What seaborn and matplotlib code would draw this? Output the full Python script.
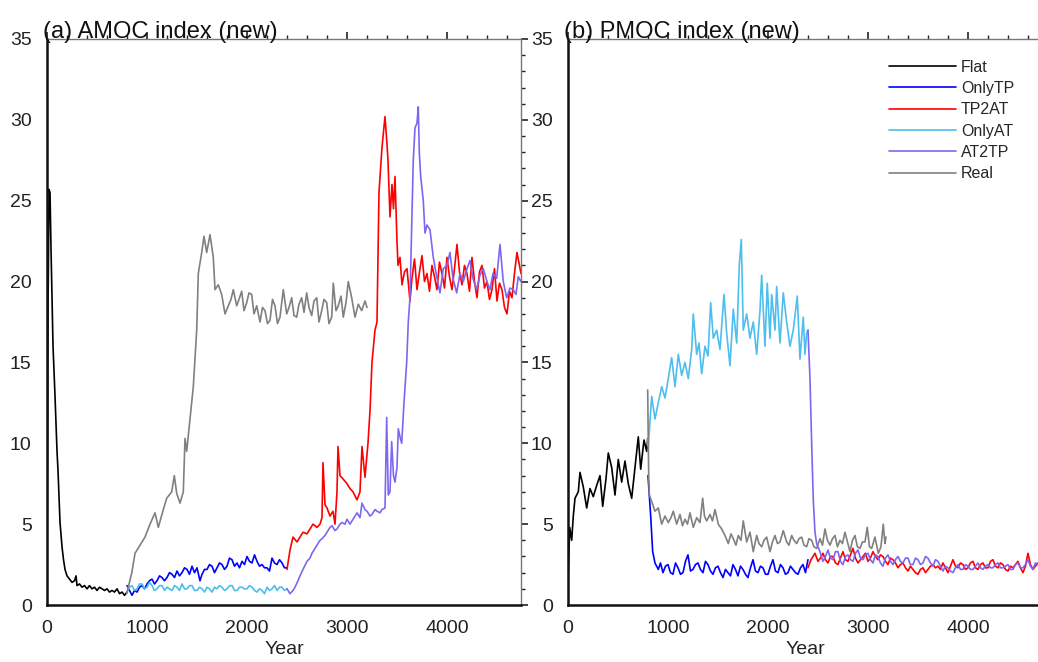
import matplotlib.pyplot as plt
import seaborn as sns
from matplotlib.ticker import MultipleLocator

# ---------------- (a) AMOC data ----------------
amoc_flat_yr = [0, 5, 10, 20, 30, 40, 50, 60, 80, 100, 110, 130, 150, 165, 180, 200, 225, 250, 275, 290,
                300, 325, 350, 375, 400, 425, 450, 475, 500, 525, 550, 575, 600, 625, 650, 675, 700, 725,
                750, 775, 800]
amoc_flat = [2.0, 10, 18, 25.7, 25.5, 22, 19, 16, 12.9, 9.5, 8.3, 5.1, 3.6, 2.8, 2.2, 1.8, 1.6, 1.4, 1.5, 1.8,
             1.2, 1.3, 1.1, 1.2, 1.0, 1.2, 1.0, 1.1, 0.9, 1.1, 1.0, 0.9, 1.0, 0.8, 0.9, 0.8, 1.0, 0.7,
             0.8, 0.6, 0.8]

amoc_onlytp_yr = [800, 825, 850, 875, 900, 925, 950, 975, 1000, 1025, 1050, 1075, 1100, 1125, 1150, 1175,
                  1200, 1225, 1250, 1275, 1300, 1325, 1350, 1375, 1400, 1425, 1450, 1475, 1500, 1530, 1550,
                  1575, 1600, 1625, 1650, 1675, 1700, 1725, 1750, 1775, 1800, 1825, 1850, 1875, 1900, 1925,
                  1950, 1975, 2000, 2025, 2050, 2075, 2100, 2125, 2150, 2175, 2200, 2225, 2250, 2275, 2300,
                  2325, 2350, 2375, 2400]
amoc_onlytp = [1.2, 0.9, 0.6, 0.9, 0.8, 1.1, 1.2, 1.0, 1.3, 1.5, 1.6, 1.3, 1.5, 1.8, 1.7, 1.5, 1.7, 2.0, 1.9,
               1.7, 2.1, 1.8, 2.0, 2.3, 2.2, 1.9, 2.4, 2.0, 2.3, 1.5, 1.9, 2.2, 2.2, 2.5, 2.4, 2.0, 2.3, 2.6,
               2.5, 2.2, 2.4, 2.9, 2.8, 2.4, 2.6, 2.3, 2.7, 2.5, 3.0, 2.7, 2.6, 3.1, 2.7, 2.4, 2.5, 2.3, 2.3,
               2.1, 2.9, 2.6, 2.5, 2.8, 2.6, 2.3, 2.3]

amoc_tp2at_yr = [2400, 2430, 2460, 2500, 2530, 2560, 2600, 2630, 2660, 2700, 2730, 2750, 2760, 2780, 2800,
                 2830, 2860, 2880, 2900, 2910, 2930, 2960, 3000, 3030, 3060, 3100, 3130, 3150, 3180, 3210,
                 3230, 3250, 3280, 3300, 3320, 3350, 3380, 3400, 3410, 3430, 3450, 3465, 3480, 3500, 3510,
                 3530, 3550, 3575, 3600, 3630, 3650, 3675, 3700, 3725, 3750, 3775, 3800, 3825, 3850, 3875,
                 3900, 3925, 3950, 3975, 4000, 4025, 4050, 4075, 4100, 4125, 4150, 4175, 4200, 4225, 4250,
                 4275, 4300, 4325, 4350, 4375, 4400, 4425, 4450, 4475, 4500, 4525, 4550, 4575, 4600, 4625,
                 4650, 4675, 4700, 4725, 4740]
amoc_tp2at = [2.2, 3.4, 4.2, 3.9, 4.2, 4.5, 4.4, 4.7, 5.0, 4.8, 5.0, 5.4, 8.8, 6.2, 6.0, 5.5, 5.8, 5.0, 7.0,
              9.8, 8.0, 7.8, 7.5, 7.2, 7.0, 6.5, 7.0, 9.8, 7.9, 10.0, 12.0, 15.0, 17.0, 17.5, 25.5, 28.3, 30.2,
              28.5, 27.5, 24.0, 26.0, 24.5, 26.5, 22.5, 21.0, 21.5, 19.8, 20.6, 20.8, 18.8, 20.2, 21.4, 19.5,
              20.6, 21.6, 20.0, 20.5, 19.4, 21.0, 20.3, 19.5, 21.2, 20.5, 19.6, 21.5, 20.3, 19.5, 20.8, 22.3,
              20.6, 19.8, 21.0, 20.5, 19.4, 21.5, 20.0, 19.0, 20.6, 21.0, 19.6, 20.0, 18.9, 19.5, 20.8, 18.8,
              19.9, 19.5, 18.4, 18.0, 19.4, 19.0, 20.5, 21.8, 21.0, 20.5]

amoc_onlyat_yr = [800, 825, 850, 875, 900, 925, 950, 975, 1000, 1025, 1050, 1075, 1100, 1125, 1150, 1175,
                  1200, 1225, 1250, 1275, 1300, 1325, 1350, 1375, 1400, 1425, 1450, 1475, 1500, 1525, 1550,
                  1575, 1600, 1625, 1650, 1675, 1700, 1725, 1750, 1775, 1800, 1825, 1850, 1875, 1900, 1925,
                  1950, 1975, 2000, 2025, 2050, 2075, 2100, 2125, 2150, 2175, 2200, 2225, 2250, 2275, 2300,
                  2325, 2350, 2375, 2400]
amoc_onlyat = [0.8, 1.1, 1.2, 0.9, 1.0, 1.3, 1.3, 1.0, 1.1, 1.4, 1.2, 0.9, 1.0, 1.2, 1.2, 0.9, 1.1, 1.0, 0.9,
               1.2, 1.1, 0.9, 1.3, 1.0, 1.0, 1.2, 1.2, 0.9, 0.9, 1.1, 1.0, 0.8, 1.1, 1.0, 0.8, 1.1, 1.0, 1.2,
               1.1, 0.9, 1.0, 1.2, 1.2, 0.9, 0.9, 1.1, 1.1, 1.0, 1.0, 1.2, 1.1, 0.9, 0.8, 1.0, 0.9, 0.7, 1.1,
               0.9, 1.0, 1.2, 0.9, 1.1, 1.1, 0.9, 1.0]

amoc_at2tp_yr = [2400, 2430, 2460, 2480, 2510, 2530, 2560, 2600, 2630, 2650, 2680, 2700, 2730, 2750, 2780,
                 2800, 2830, 2850, 2880, 2900, 2930, 2950, 2980, 3000, 3030, 3050, 3080, 3100, 3130, 3150,
                 3180, 3200, 3230, 3250, 3280, 3300, 3330, 3350, 3380, 3397, 3413, 3430, 3447, 3465, 3480,
                 3500, 3513, 3530, 3547, 3570, 3597, 3613, 3630, 3663, 3680, 3700, 3713, 3723, 3737, 3763,
                 3780, 3800, 3830, 3863, 3897, 3930, 3963, 4000, 4030, 4060, 4097, 4130, 4163, 4200, 4230,
                 4260, 4297, 4330, 4363, 4400, 4430, 4460, 4497, 4530, 4563, 4597, 4630, 4663, 4690, 4713, 4740]
amoc_at2tp = [1.0, 0.7, 0.9, 1.1, 1.5, 1.8, 2.2, 2.7, 2.9, 3.2, 3.5, 3.7, 4.0, 4.1, 4.3, 4.5, 4.8, 4.9, 4.6,
              4.7, 5.0, 5.1, 5.0, 5.3, 5.0, 5.2, 5.5, 5.7, 5.4, 6.3, 5.9, 5.8, 5.5, 5.6, 5.9, 5.8, 5.7, 5.9,
              6.0, 11.6, 6.8, 7.0, 10.1, 8.0, 7.6, 8.5, 10.9, 10.4, 10.0, 12.5, 15.0, 17.5, 19.0, 27.5, 29.5,
              29.8, 30.8, 28.0, 26.5, 25.0, 23.0, 23.5, 23.2, 21.5, 20.3, 19.3, 20.8, 21.0, 21.8, 20.2, 19.3,
              20.5, 20.0, 20.8, 21.3, 20.2, 19.5, 20.4, 20.8, 20.0, 19.5, 20.5, 20.2, 22.3, 20.0, 19.0, 19.6,
              19.5, 19.2, 20.3, 20.0]

amoc_real_yr = [797, 848, 880, 930, 980, 1030, 1080, 1113, 1163, 1197, 1247, 1273, 1297, 1330, 1363, 1380,
                1397, 1430, 1463, 1497, 1513, 1547, 1570, 1597, 1630, 1663, 1680, 1713, 1747, 1780, 1813, 1840,
                1863, 1897, 1920, 1947, 1970, 1997, 2020, 2047, 2070, 2097, 2130, 2155, 2180, 2205, 2230, 2255,
                2280, 2305, 2330, 2363, 2397, 2420, 2447, 2470, 2497, 2520, 2547, 2570, 2597, 2620, 2647, 2670,
                2697, 2720, 2747, 2770, 2797, 2820, 2847, 2863, 2890, 2913, 2940, 2963, 2990, 3013, 3047, 3080,
                3113, 3147, 3180, 3200]
amoc_real = [0.7, 2.0, 3.2, 3.7, 4.2, 5.0, 5.7, 4.8, 5.9, 6.6, 7.0, 8.0, 6.9, 6.3, 7.0, 10.3, 9.5, 11.5, 13.5,
             17.0, 20.5, 21.8, 22.8, 21.8, 22.9, 21.5, 19.5, 19.8, 19.2, 18.0, 18.5, 18.9, 19.5, 18.5, 18.9,
             19.4, 18.2, 18.7, 19.3, 19.2, 18.0, 18.5, 17.5, 18.4, 18.2, 17.4, 17.6, 18.9, 18.5, 17.4, 17.8,
             19.5, 18.0, 18.4, 19.0, 17.9, 17.8, 18.6, 19.0, 18.1, 19.3, 18.4, 17.9, 18.8, 19.0, 17.5, 18.2,
             18.9, 18.7, 17.4, 17.8, 19.9, 18.2, 18.5, 19.1, 17.8, 18.7, 20.0, 19.0, 17.8, 18.6, 18.2, 18.8,
             18.4]

# ---------------- (b) PMOC data ----------------
pmoc_flat_yr = [0, 17, 37, 53, 70, 103, 120, 153, 187, 220, 253, 287, 320, 347, 380, 403, 437, 470, 503, 537,
                570, 603, 637, 670, 703, 727, 760, 787, 797]
pmoc_flat = [1.4, 4.8, 4.0, 5.5, 6.6, 7.0, 8.2, 7.3, 6.0, 7.2, 6.7, 7.4, 8.0, 6.1, 7.8, 9.4, 8.5, 6.8, 9.0, 7.6,
             8.9, 7.5, 6.6, 8.5, 10.4, 8.4, 10.2, 9.5, 10.3]

pmoc_onlytp_yr = [800, 827, 847, 870, 903, 925, 950, 975, 1000, 1025, 1050, 1075, 1100, 1125, 1150, 1175, 1200,
                  1225, 1250, 1275, 1300, 1325, 1350, 1375, 1400, 1425, 1450, 1475, 1500, 1525, 1550, 1575,
                  1600, 1625, 1650, 1675, 1700, 1725, 1750, 1775, 1800, 1825, 1850, 1875, 1900, 1925, 1950,
                  1975, 2000, 2025, 2050, 2075, 2100, 2125, 2150, 2175, 2200, 2225, 2250, 2275, 2300, 2325,
                  2350, 2375, 2400]
pmoc_onlytp = [8.0, 5.5, 3.3, 2.6, 2.2, 2.6, 2.0, 2.4, 2.5, 2.0, 1.9, 2.6, 2.3, 1.9, 2.0, 2.7, 3.1, 2.1, 2.2,
               2.5, 2.6, 2.2, 2.0, 2.7, 2.5, 2.1, 1.9, 2.3, 2.4, 2.0, 1.7, 2.2, 2.0, 1.8, 2.5, 2.2, 1.8, 2.4,
               2.2, 1.9, 1.7, 2.3, 2.8, 2.1, 2.0, 2.4, 2.3, 1.9, 1.9, 2.4, 2.8, 2.1, 2.0, 2.5, 2.3, 1.9, 2.0,
               2.4, 2.2, 2.0, 1.9, 2.3, 2.5, 2.0, 2.8]

pmoc_tp2at_yr = [2400, 2430, 2470, 2500, 2525, 2550, 2575, 2600, 2625, 2650, 2675, 2700, 2725, 2750, 2775,
                 2800, 2825, 2850, 2875, 2900, 2925, 2950, 2975, 3000, 3025, 3050, 3075, 3100, 3125, 3150,
                 3175, 3200, 3225, 3250, 3275, 3300, 3325, 3350, 3375, 3400, 3425, 3450, 3475, 3500, 3525,
                 3550, 3575, 3600, 3625, 3650, 3675, 3700, 3725, 3750, 3775, 3800, 3825, 3850, 3875, 3900,
                 3925, 3950, 3975, 4000, 4025, 4050, 4075, 4100, 4125, 4150, 4175, 4200, 4225, 4250, 4275,
                 4300, 4325, 4350, 4375, 4400, 4425, 4450, 4475, 4500, 4525, 4550, 4575, 4600, 4625, 4650,
                 4675, 4700, 4740]
pmoc_tp2at = [2.3, 2.8, 3.2, 2.7, 2.9, 3.2, 2.8, 2.6, 3.0, 3.0, 2.6, 2.5, 2.9, 3.3, 2.8, 2.7, 3.1, 3.5, 2.9,
              2.6, 2.8, 3.0, 3.2, 2.7, 2.9, 3.3, 3.0, 2.8, 3.1, 3.0, 2.7, 2.5, 2.9, 2.8, 2.6, 2.3, 2.5, 2.6,
              2.3, 2.1, 2.4, 2.2, 2.0, 1.9, 2.2, 2.3, 2.0, 2.2, 2.4, 2.5, 2.3, 2.4, 2.2, 2.6, 2.3, 2.0, 2.4,
              2.8, 2.4, 2.3, 2.6, 2.5, 2.2, 2.3, 2.6, 2.7, 2.3, 2.2, 2.5, 2.6, 2.3, 2.3, 2.7, 2.8, 2.4, 2.3,
              2.6, 2.5, 2.2, 2.1, 2.4, 2.3, 2.5, 2.7, 2.3, 2.0, 2.4, 3.2, 2.5, 2.2, 2.4, 2.6, 2.3]

pmoc_onlyat_yr = [797, 803, 837, 870, 903, 937, 970, 1003, 1037, 1070, 1103, 1137, 1170, 1203, 1237, 1253,
                  1287, 1310, 1337, 1370, 1400, 1427, 1453, 1487, 1520, 1560, 1587, 1620, 1653, 1687, 1713,
                  1733, 1753, 1787, 1820, 1853, 1887, 1920, 1937, 1970, 1993, 2020, 2037, 2070, 2087, 2120,
                  2153, 2187, 2220, 2253, 2293, 2320, 2353, 2370, 2387, 2400]
pmoc_onlyat = [10.3, 9.8, 12.9, 11.5, 12.5, 13.5, 12.8, 14.0, 15.3, 13.5, 15.5, 14.2, 15.0, 14.0, 15.8, 18.0,
               15.5, 16.2, 14.3, 16.0, 15.4, 18.7, 16.5, 17.0, 15.8, 19.2, 16.8, 14.8, 18.3, 16.2, 21.0, 22.6,
               17.0, 18.0, 16.5, 17.5, 15.5, 18.2, 20.4, 16.0, 19.9, 16.5, 19.2, 17.0, 19.7, 16.2, 19.3, 17.5,
               16.0, 17.0, 19.1, 15.2, 17.8, 15.5, 16.8, 17.0]

pmoc_at2tp_yr = [2400, 2420, 2437, 2453, 2470, 2487, 2520, 2550, 2575, 2600, 2625, 2650, 2675, 2700, 2725,
                 2750, 2775, 2800, 2825, 2850, 2875, 2900, 2925, 2950, 2975, 3000, 3025, 3050, 3075, 3100,
                 3125, 3150, 3175, 3200, 3225, 3250, 3275, 3300, 3325, 3350, 3375, 3400, 3425, 3450, 3475,
                 3500, 3525, 3550, 3575, 3600, 3625, 3650, 3675, 3700, 3725, 3750, 3775, 3800, 3825, 3850,
                 3875, 3900, 3925, 3950, 3975, 4000, 4025, 4050, 4075, 4100, 4125, 4150, 4175, 4200, 4225,
                 4250, 4275, 4300, 4325, 4350, 4375, 4400, 4425, 4450, 4475, 4500, 4525, 4550, 4575, 4600,
                 4625, 4650, 4675, 4700, 4740]
pmoc_at2tp = [17.0, 14.0, 10.0, 6.5, 4.5, 3.8, 3.3, 2.7, 3.0, 3.4, 2.9, 2.8, 3.3, 3.3, 2.7, 2.5, 3.0, 3.1,
              2.8, 2.7, 3.2, 3.4, 2.9, 2.8, 3.1, 3.2, 2.8, 2.6, 3.1, 3.0, 2.6, 2.4, 2.9, 3.1, 2.7, 2.5, 2.8,
              3.0, 2.7, 2.6, 2.9, 2.9, 2.5, 2.5, 2.9, 2.8, 2.5, 2.6, 3.0, 2.9, 2.6, 2.4, 2.8, 2.7, 2.4, 2.1,
              2.4, 2.3, 2.1, 2.0, 2.3, 2.5, 2.2, 2.2, 2.5, 2.4, 2.2, 2.2, 2.4, 2.6, 2.3, 2.2, 2.4, 2.5, 2.3,
              2.3, 2.5, 2.6, 2.3, 2.3, 2.4, 2.5, 2.2, 2.2, 2.5, 2.6, 2.3, 2.3, 2.5, 2.8, 2.4, 2.2, 2.6, 2.5,
              2.3]

pmoc_real_yr = [797, 807, 813, 837, 870, 903, 937, 970, 1003, 1030, 1053, 1087, 1120, 1145, 1170, 1195, 1220,
                1253, 1287, 1320, 1347, 1365, 1387, 1420, 1445, 1470, 1503, 1537, 1570, 1603, 1630, 1653, 1680,
                1703, 1730, 1753, 1787, 1820, 1853, 1887, 1910, 1937, 1960, 1987, 2020, 2045, 2070, 2095, 2120,
                2153, 2187, 2210, 2237, 2260, 2287, 2310, 2337, 2360, 2387, 2410, 2437, 2460, 2487, 2520, 2545,
                2570, 2595, 2620, 2645, 2670, 2695, 2720, 2745, 2770, 2795, 2820, 2845, 2870, 2895, 2920, 2945,
                2970, 2993, 3015, 3037, 3070, 3103, 3130, 3153, 3170, 3180]
pmoc_real = [13.3, 8.0, 6.8, 6.4, 5.8, 6.0, 5.0, 5.5, 5.1, 5.4, 5.8, 5.0, 5.6, 4.9, 5.3, 5.0, 5.7, 4.8, 5.4,
             5.1, 6.6, 5.5, 5.2, 5.6, 5.2, 5.9, 5.0, 4.7, 4.3, 3.8, 4.4, 4.1, 3.7, 4.3, 4.0, 5.2, 3.9, 4.5,
             3.3, 4.3, 3.8, 3.6, 4.0, 4.2, 3.3, 3.9, 4.3, 3.8, 3.9, 4.6, 3.9, 3.7, 4.3, 4.0, 3.8, 4.1, 4.2,
             3.7, 3.6, 4.1, 4.0, 3.6, 3.5, 4.1, 3.7, 4.7, 4.0, 3.7, 4.1, 4.3, 3.6, 4.0, 3.8, 4.5, 3.9, 3.3,
             4.0, 4.3, 3.6, 3.5, 3.9, 3.9, 4.8, 3.6, 3.5, 4.2, 3.2, 3.6, 5.0, 3.8, 4.2]

labels = ['Flat', 'OnlyTP', 'TP2AT', 'OnlyAT', 'AT2TP', 'Real']
colors = ['#000000', '#0000FF', '#FF0000', '#4DBEEE', '#7F66F2', '#808080']

amoc = [(amoc_flat_yr, amoc_flat), (amoc_onlytp_yr, amoc_onlytp), (amoc_tp2at_yr, amoc_tp2at),
        (amoc_onlyat_yr, amoc_onlyat), (amoc_at2tp_yr, amoc_at2tp), (amoc_real_yr, amoc_real)]
pmoc = [(pmoc_flat_yr, pmoc_flat), (pmoc_onlytp_yr, pmoc_onlytp), (pmoc_tp2at_yr, pmoc_tp2at),
        (pmoc_onlyat_yr, pmoc_onlyat), (pmoc_at2tp_yr, pmoc_at2tp), (pmoc_real_yr, pmoc_real)]

sns.set_theme(style="white")
plt.rcParams['font.family'] = ['Liberation Sans', 'DejaVu Sans']

fig = plt.figure(figsize=(10.38, 6.62), dpi=100)
ax_a = fig.add_axes([0.0453, 0.0861, 0.4566, 0.855])
ax_b = fig.add_axes([0.5472, 0.0861, 0.4566, 0.855])


def draw_panel(ax, series, title, show_legend):
    for (yr, val), lab, col in zip(series, labels, colors):
        sns.lineplot(x=yr, y=val, ax=ax, color=col, linewidth=1.2, label=lab, legend=False)
    ax.set_xlim(0, 4740)
    ax.set_ylim(0, 35)
    ax.set_title(title, loc='left', fontsize=17, pad=1, color='#111111', x=-0.008)
    ax.set_xlabel('Year', fontsize=14, labelpad=3, color='#222222')
    ax.set_ylabel('')
    ax.xaxis.set_major_locator(MultipleLocator(1000))
    ax.xaxis.set_minor_locator(MultipleLocator(200))
    ax.yaxis.set_major_locator(MultipleLocator(5))
    ax.yaxis.set_minor_locator(MultipleLocator(1))
    ax.tick_params(which='both', direction='out', top=True, right=True, colors='#222222', labelsize=14)
    ax.tick_params(which='major', length=5, width=1.2, pad=6)
    ax.tick_params(which='minor', length=3, width=1.0)
    for side in ['left', 'bottom']:
        ax.spines[side].set_linewidth(1.8)
        ax.spines[side].set_color('#111111')
    for side in ['top', 'right']:
        ax.spines[side].set_linewidth(1.0)
        ax.spines[side].set_color('#777777')
    if show_legend:
        ax.legend(loc='upper right', bbox_to_anchor=(0.955, 0.975), borderaxespad=0, frameon=False,
                  fontsize=11.5, handlelength=4.2, labelspacing=0.4, handletextpad=0.3)


draw_panel(ax_a, amoc, '(a) AMOC index (new)', False)
draw_panel(ax_b, pmoc, '(b) PMOC index (new)', True)

fig.savefig('out.png', dpi=100)
